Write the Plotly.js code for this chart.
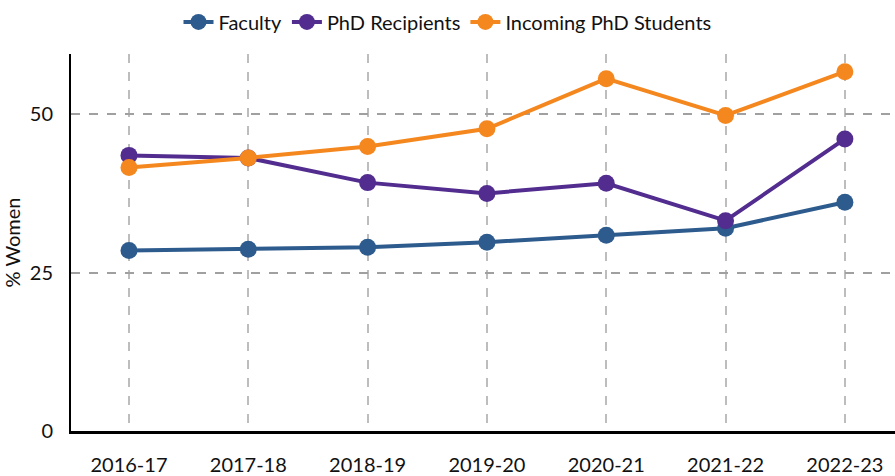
<!DOCTYPE html>
<html><head><meta charset="utf-8">
<script src="https://cdn.plot.ly/plotly-3.0.1.min.js"></script>
<style>body{margin:0;background:#fff}#c{width:895px;height:476px}</style>
</head><body><div id="c"></div>
<script>
const years = ["2016-17","2017-18","2018-19","2019-20","2020-21","2021-22","2022-23"];
const faculty = [28.5, 28.7, 29.0, 29.8, 30.9, 32.0, 36.1];
const phdRecipients = [43.5, 43.1, 39.2, 37.5, 39.1, 33.2, 46.1];
const incomingPhd = [41.6, 43.1, 44.9, 47.7, 55.6, 49.8, 56.7];
const seriesNames = ["Faculty","PhD Recipients","Incoming PhD Students"];
const colors = ["#2d5b8d","#522d8f","#f5871f"];
const yTicks = [0, 25, 50];

const series = [faculty, phdRecipients, incomingPhd];
const traces = series.map((v,i)=>({
  x: years, y: v, name: seriesNames[i], type:'scatter', mode:'lines+markers',
  line:{color:colors[i], width:4}, marker:{color:colors[i], size:17}
}));
const layout = {
  width:895, height:476,
  margin:{l:71, r:0, t:54, b:45},
  paper_bgcolor:'#fff', plot_bgcolor:'#fff',
  font:{family:'Lato, "Open Sans", sans-serif', size:20, color:'#111'},
  showlegend:true,
  legend:{orientation:'h', xref:'container', x:0.5, xanchor:'center', yref:'container', y:0.995, yanchor:'top', font:{size:20}},
  xaxis:{type:'category', range:[-0.486, 6.42], showgrid:true, gridcolor:'#bdbdbd', griddash:'dash', gridwidth:2,
    showline:true, linecolor:'#000', linewidth:2.5, ticks:'', ticklabelstandoff:14, zeroline:false},
  yaxis:{range:[0,59.5], tickvals:yTicks, showgrid:true, gridcolor:'#a0a0a0', griddash:'dash', gridwidth:1.5,
    showline:true, linecolor:'#000', linewidth:2, ticks:'', ticklabelstandoff:12, zeroline:false,
    title:{text:'% Women', font:{size:20}, standoff:12}}
};
Plotly.newPlot('c', traces, layout, {displayModeBar:false});
</script></body></html>
